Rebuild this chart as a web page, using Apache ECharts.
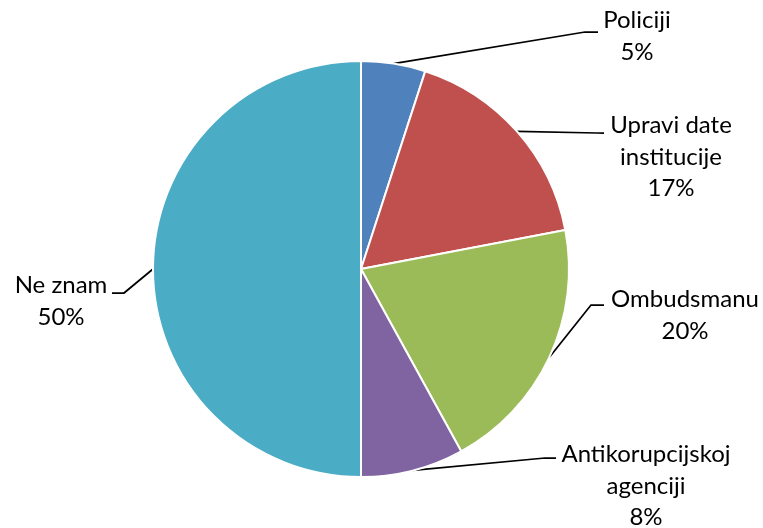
<!DOCTYPE html>
<html><head><meta charset="utf-8">
<script src="https://cdn.jsdelivr.net/npm/echarts@6/dist/echarts.min.js"></script>
<style>html,body{margin:0;padding:0;background:#fff}#c{width:763px;height:528px}</style>
</head><body><div id="c"></div>
<script>
const categories = ['Policiji', 'Upravi date\ninstitucije', 'Ombudsmanu', 'Antikorupcijskoj\nagenciji', 'Ne znam'];
const values = [5, 17, 20, 8, 50];
const colors = ['#4F81BD', '#C0504D', '#9BBB59', '#8064A2', '#4BACC6'];
// label layout: text center x, text top y
const labelPos = [[637, 5], [671, 110], [685, 284], [646, 439], [61, 270]];
// leader line elbow and end points
const lineBends = [
  [[585, 32], [598, 32]],
  [[597, 133], [604, 133]],
  [[591, 305], [604, 305]],
  [[545, 458], [556, 458]],
  [[124, 293], [112, 293]]
];

const chart = echarts.init(document.getElementById('c'));
chart.setOption({
  animation: false,
  series: [{
    type: 'pie',
    center: [361, 269],
    radius: [0, 208],
    startAngle: 90,
    clockwise: true,
    data: categories.map((n, i) => ({ name: n, value: values[i], itemStyle: { color: colors[i] } })),
    itemStyle: { borderColor: '#fff', borderWidth: 2 },
    label: {
      show: true,
      formatter: p => p.name + '\n' + Math.round(p.percent) + '%',
      fontFamily: 'Lato',
      fontSize: 24,
      lineHeight: 31.5,
      color: '#000',
      align: 'center'
    },
    labelLine: { show: true, length: 30, length2: 10, lineStyle: { color: '#000', width: 1.75 } },
    labelLayout: p => {
      const i = p.dataIndex;
      const start = p.labelLinePoints ? p.labelLinePoints[0] : null;
      const out = {
        x: labelPos[i][0],
        y: labelPos[i][1],
        align: 'center',
        verticalAlign: 'top'
      };
      if (start) out.labelLinePoints = [start, lineBends[i][0], lineBends[i][1]];
      return out;
    }
  }]
});
</script></body></html>
